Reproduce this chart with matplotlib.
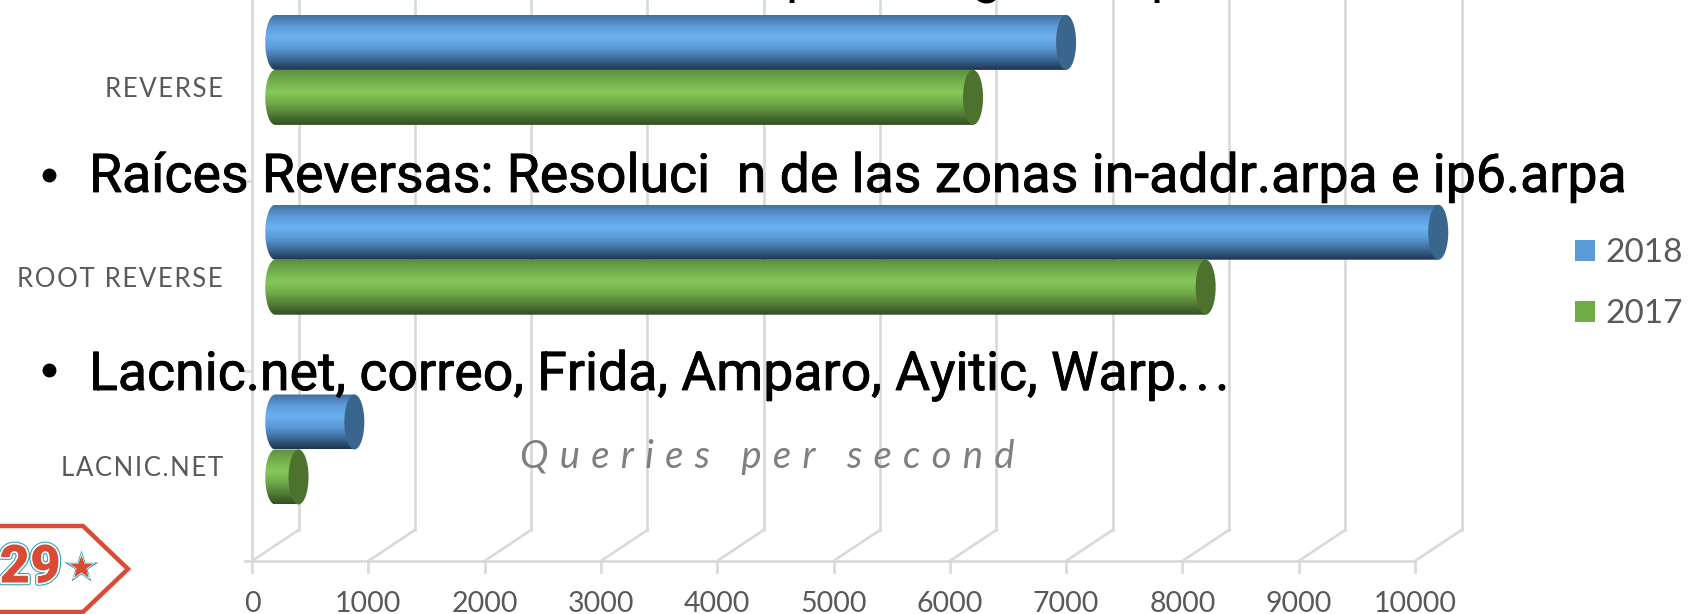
import matplotlib.pyplot as plt
import matplotlib.patheffects as pe
import numpy as np
from matplotlib.colors import LinearSegmentedColormap
from matplotlib.patches import Ellipse, PathPatch, Patch, Polygon
from matplotlib.path import Path

W, H = 1696, 614

categories = ["LACNIC.NET", "ROOT REVERSE", "REVERSE"]
years = ["2018", "2017"]
values_2018 = [680, 10000, 6800]
values_2017 = [200, 8000, 6000]
x_ticks = [0, 1000, 2000, 3000, 4000, 5000, 6000, 7000, 8000, 9000, 10000]

bullet_1 = "Raíces Reversas: Resoluci  n de las zonas in-addr.arpa e ip6.arpa"
bullet_2 = "Lacnic.net, correo, Frida, Amparo, Ayitic, Warp.\u200a.\u200a."
axis_title = "Queries per second"

# front axis in pixels
X0_PX, PX_PER_UNIT = 252.0, 0.11630
Y0_PX, PX_PER_CAT = 449.5, 189.8
FLOOR_PX = 561.0
DEPTH_X = 400  # data units
DEPTH_Y = 31 / PX_PER_CAT
BAR_H = 55 / PX_PER_CAT
CAP_W = 20 / PX_PER_UNIT
TICK = 11 / PX_PER_CAT
TOP = 2.6

GRID = "#d9d9d9"
TEXT = "#595959"
FONT = "Lato"
LW = 1.9

blue_cmap = LinearSegmentedColormap.from_list(
    "blue", ["#44719f", "#5c9bd9", "#6ab0f0", "#5b9ad6", "#3f6c9c", "#1f3550"]
)
green_cmap = LinearSegmentedColormap.from_list(
    "green", ["#5f9140", "#74b04c", "#84c858", "#70aa49", "#537f35", "#344f24"]
)


def spaced(s, sep="\u200a"):
    return sep.join(s)


def cylinder(ax, y0, y1, value, cmap, cap_color):
    xc0, xc1 = DEPTH_X / 2, DEPTH_X / 2 + value
    yc = (y0 + y1) / 2
    t = np.linspace(np.pi / 2, 3 * np.pi / 2, 40)
    left = np.c_[xc0 + CAP_W / 2 * np.cos(t), yc + (y1 - y0) / 2 * np.sin(t)]
    outline = np.vstack([[[xc1, y1]], left, [[xc1, y0]]])
    clip = PathPatch(Path(outline, closed=False), fc="none", ec="none", transform=ax.transData)
    ax.add_patch(clip)
    im = ax.imshow(
        np.linspace(0, 1, 64)[:, None],
        extent=(xc0 - CAP_W, xc1, y0, y1),
        origin="upper",
        cmap=cmap,
        aspect="auto",
        zorder=3,
    )
    im.set_clip_path(clip)
    ax.add_patch(Ellipse((xc1, yc), CAP_W, y1 - y0, fc=cap_color, ec="none", zorder=4))


plt.rcParams["font.family"] = [FONT, "DejaVu Sans"]
fig = plt.figure(figsize=(W / 100, H / 100), dpi=100)
ax = fig.add_axes([0, 0, 1, 1])
ax.axis("off")

floor = (Y0_PX - FLOOR_PX) / PX_PER_CAT
back = floor + DEPTH_Y

# gridlines: back wall, floor diagonals, front axis ticks
for x in x_ticks:
    ax.plot([x + DEPTH_X] * 2, [back, TOP], color=GRID, lw=LW, zorder=1)
    ax.plot([x, x + DEPTH_X], [floor, back], color=GRID, lw=LW, zorder=1)
    ax.plot([x, x], [floor, floor - TICK], color=GRID, lw=LW, zorder=1)

ax.plot([-60, x_ticks[-1]], [floor, floor], color=GRID, lw=LW, zorder=1)
ax.plot([0, 0], [floor, TOP], color=GRID, lw=LW, zorder=1)
for i in range(3):
    ax.plot([-60, 0], [floor + i + 1] * 2, color=GRID, lw=LW, zorder=1)

for i, cat in enumerate(categories):
    cylinder(ax, i, i + BAR_H, values_2018[i], blue_cmap, "#3a668e")
    cylinder(ax, i - BAR_H, i, values_2017[i], green_cmap, "#4c722d")
    ax.text(-252, i - 19.5 / PX_PER_CAT, spaced(cat), ha="right", va="center", fontsize=18.5, color=TEXT)

for x in x_ticks:
    ax.text(x, floor - 43 / PX_PER_CAT, str(x), ha="center", va="center", fontsize=20.5, color=TEXT)

ax.set_xlim(-X0_PX / PX_PER_UNIT, (W - X0_PX) / PX_PER_UNIT)
ax.set_ylim((Y0_PX - H) / PX_PER_CAT, Y0_PX / PX_PER_CAT)

handles = [
    Patch(facecolor="#5b9bd5", lw=0, label=years[0]),
    Patch(facecolor="#70ad47", lw=0, label=years[1]),
]
fig.legend(
    handles=handles,
    loc="center right",
    bbox_to_anchor=(1.002, 0.538),
    frameon=False,
    fontsize=24,
    handlelength=0.6,
    handleheight=0.6,
    handletextpad=0.3,
    labelspacing=0.92,
    labelcolor=TEXT,
    borderaxespad=0.1,
)

# overlay in pixel coordinates: slide text and logo
ov = fig.add_axes([0, 0, 1, 1], facecolor="none")
ov.axis("off")
ov.set_xlim(0, W)
ov.set_ylim(H, 0)

ov.text(520, 457, spaced(axis_title, " \u200a"), fontsize=27.5, style="italic", color="#7f7f7f", va="center", ha="left")

SLIDE = ["Roboto", "DejaVu Sans"]
heavier = [pe.withStroke(linewidth=0.6, foreground="black")]
ov.text(89, 192, bullet_1, family=SLIDE, fontsize=38.6, color="black", va="baseline", path_effects=heavier)
ov.text(89, 390, bullet_2, family=SLIDE, fontsize=38.6, color="black", va="baseline", path_effects=heavier)
ov.plot([49, 49], [175, 370], ls="none", marker="o", ms=9, color="black")
for px, ch in [(800, "p"), (987, "g"), (1165, "p")]:
    ov.text(px, -8, ch, family=SLIDE, fontsize=38.6, color="black", ha="center", va="baseline", clip_on=True)

# logo
RED = "#d94b34"
TEAL = "#2a9fb5"
ov.add_patch(Polygon(
    [(-10, 526), (83, 526), (128, 569), (83, 612), (-10, 612)],
    closed=True, fc="none", ec=RED, lw=3.2,
))
ov.text(30, 568, "29", family=["Roboto", "DejaVu Sans"], fontsize=38, fontweight="black", color=RED,
        ha="center", va="center",
        path_effects=[pe.Stroke(linewidth=4, foreground=TEAL), pe.Stroke(linewidth=2.5, foreground="white"), pe.Normal()])
ov.plot([81], [567], marker="*", ms=25, mfc=TEAL, mec="none")
ov.plot([81], [567], marker="*", ms=21, mfc="white", mec="none")
ov.plot([81], [567], marker="*", ms=18, mfc=RED, mec="none")

fig.savefig("out.png", dpi=100)
